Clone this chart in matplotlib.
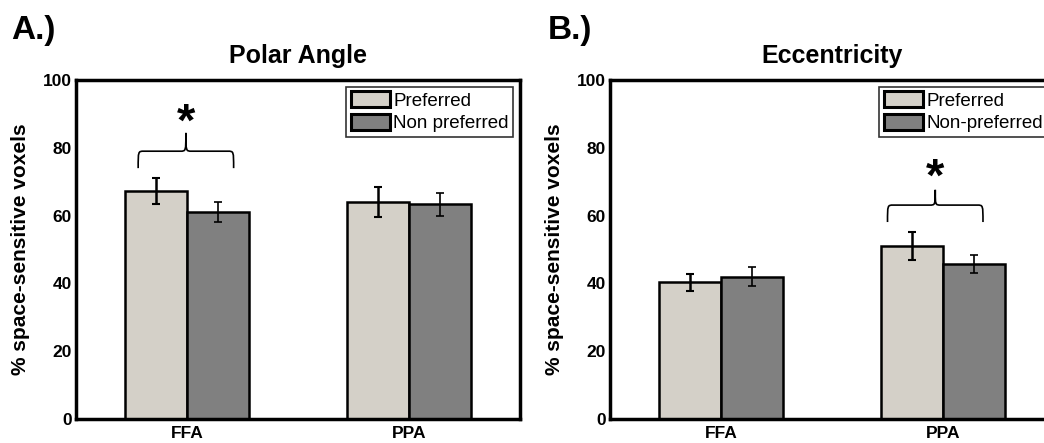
import numpy as np
import matplotlib
matplotlib.use("Agg")
import matplotlib.pyplot as plt
from matplotlib.path import Path
from matplotlib.patches import PathPatch

plt.rcParams['font.family'] = ['Liberation Sans', 'DejaVu Sans']

regiones = ["FFA", "PPA"]

# Polar angle
polar_pref = [67.3, 64.0]
polar_pref_err = [3.8, 4.4]
polar_nopref = [61.0, 63.4]
polar_nopref_err = [3.0, 3.4]

# Eccentricity
ecc_pref = [40.4, 51.0]
ecc_pref_err = [2.5, 4.1]
ecc_nopref = [41.9, 45.7]
ecc_nopref_err = [2.8, 2.7]

color_pref = "#d4d0c8"
color_nopref = "#808080"


def llave(ax, x0, x1, ybase, yline, ypico):
    # llave horizontal que agrupa dos barras
    xm = (x0 + x1) / 2.0
    r = (x1 - x0) * 0.06
    verts = [(x0, ybase), (x0, yline), (x0, yline), (x0 + r, yline),
             (xm - r, yline), (xm, yline), (xm, yline), (xm, ypico),
             (xm, yline), (xm, yline), (xm + r, yline),
             (x1 - r, yline), (x1, yline), (x1, yline), (x1, ybase)]
    codes = [Path.MOVETO, Path.CURVE4, Path.CURVE4, Path.CURVE4,
             Path.LINETO, Path.CURVE4, Path.CURVE4, Path.CURVE4,
             Path.CURVE4, Path.CURVE4, Path.CURVE4,
             Path.LINETO, Path.CURVE4, Path.CURVE4, Path.CURVE4]
    ax.add_patch(PathPatch(Path(verts, codes), fill=False, lw=1.2, color='black'))


def panel(ax, pref, pref_err, nopref, nopref_err, titulo, etiquetas):
    x = np.arange(1, len(regiones) + 1)
    w = 0.28
    ax.bar(x - w / 2, pref, w, color=color_pref, edgecolor='black', lw=1.8,
           label=etiquetas[0], zorder=2)
    ax.bar(x + w / 2, nopref, w, color=color_nopref, edgecolor='black', lw=1.8,
           label=etiquetas[1], zorder=2)
    ax.errorbar(x - w / 2, pref, yerr=pref_err, fmt='none', ecolor='black',
                elinewidth=1.8, capsize=3, capthick=1.5, zorder=3)
    ax.errorbar(x + w / 2, nopref, yerr=nopref_err, fmt='none', ecolor='black',
                elinewidth=1.2, capsize=3, capthick=1.2, zorder=3)
    ax.set_xlim(0.5, 2.5)
    ax.set_ylim(0, 100)
    ax.set_xticks(x)
    ax.set_xticklabels(regiones, fontweight='bold', fontsize=13)
    ax.set_yticks(range(0, 101, 20))
    ax.tick_params(length=0, labelsize=12.5, pad=3)
    ax.tick_params(axis='x', pad=5)
    for t in ax.get_yticklabels():
        t.set_fontweight('bold')
    for s in ax.spines.values():
        s.set_linewidth(2.5)
    ax.set_ylabel("% space-sensitive voxels", fontweight='bold', fontsize=15,
                  labelpad=9)
    ax.set_title(titulo, fontweight='bold', fontsize=18, pad=12)
    leg = ax.legend(loc='upper right', fontsize=13.5, frameon=True, fancybox=False,
                    handlelength=2.1, handleheight=0.9, handletextpad=0.15,
                    borderpad=0.25, labelspacing=0.25, borderaxespad=0.35)
    leg.get_frame().set_edgecolor('black')
    leg.get_frame().set_linewidth(1.2)
    for h in leg.legend_handles:
        h.set_linewidth(2.2)


fig = plt.figure(figsize=(10.44, 4.43), dpi=100)
ax1 = fig.add_axes([0.0728, 0.0542, 0.4253, 0.7652])
ax2 = fig.add_axes([0.5843, 0.0542, 0.4253, 0.7652])

panel(ax1, polar_pref, polar_pref_err, polar_nopref, polar_nopref_err,
      "Polar Angle", ["Preferred", "Non preferred"])
panel(ax2, ecc_pref, ecc_pref_err, ecc_nopref, ecc_nopref_err,
      "Eccentricity", ["Preferred", "Non-preferred"])

llave(ax1, 0.78, 1.21, 74.0, 79.0, 84.4)
ax1.text(0.995, 87.0, "*", ha='center', va='center', fontsize=34, fontweight='bold')
llave(ax2, 1.75, 2.18, 58.1, 63.1, 67.6)
ax2.text(1.965, 71.0, "*", ha='center', va='center', fontsize=34, fontweight='bold')

fig.text(0.011, 0.932, "A.)", fontsize=24, fontweight='bold', va='center')
fig.text(0.525, 0.932, "B.)", fontsize=24, fontweight='bold', va='center')

fig.savefig("out.png", dpi=100)
